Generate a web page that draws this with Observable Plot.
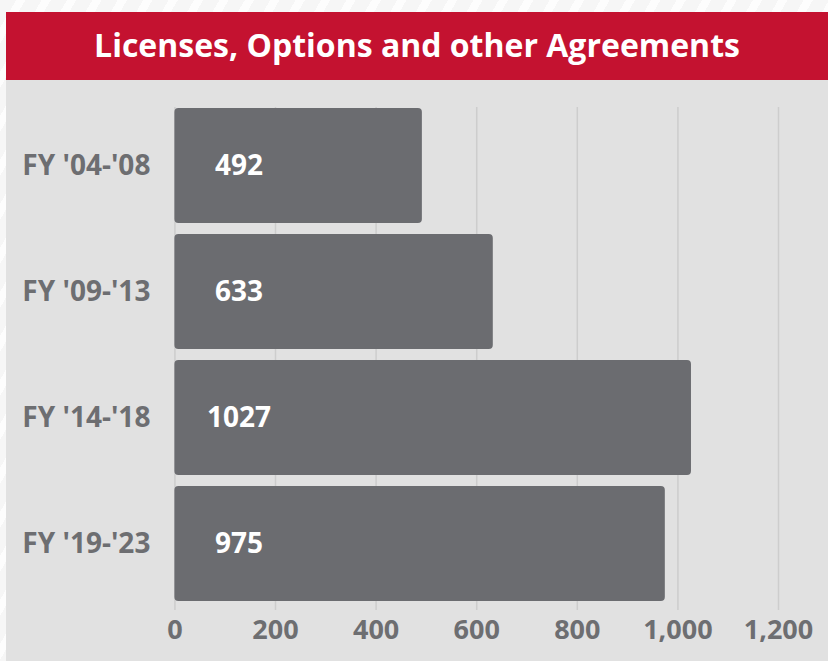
<!DOCTYPE html>
<html>
<head>
<meta charset="utf-8">
<script src="https://cdn.jsdelivr.net/npm/d3@7"></script>
<script src="https://cdn.jsdelivr.net/npm/@observablehq/plot@0.6"></script>
<style>
  html, body { margin: 0; padding: 0; }
  body {
    width: 828px; height: 661px; overflow: hidden;
    background: repeating-linear-gradient(120deg, #f6f6f6 0px, #f6f6f6 14px, #fdfdfd 14px, #fdfdfd 22px);
    font-family: "Open Sans", sans-serif;
    position: relative;
  }
  #panel {
    position: absolute; left: 6px; top: 12px; width: 822px; height: 649px;
    background: #e1e1e1;
  }
  #title {
    height: 68px; background: #c41230; color: #fff;
    font: 700 32px "Open Sans", sans-serif;
    line-height: 66px;
    text-align: center; white-space: nowrap;
  }
  #chart svg { display: block; }
</style>
</head>
<body>
<div id="panel">
  <div id="title">Licenses, Options and other Agreements</div>
  <div id="chart"></div>
</div>
<script>
const categories = ["FY '04-'08", "FY '09-'13", "FY '14-'18", "FY '19-'23"];
const values = [492, 633, 1027, 975];
const xTicks = [0, 200, 400, 600, 800, 1000, 1200];

const data = categories.map((c, i) => ({category: c, value: values[i]}));

const chart = Plot.plot({
  width: 822,
  height: 581,
  marginLeft: 168.4,
  marginRight: 50,
  marginTop: 27,
  marginBottom: 59,
  style: {background: "transparent", fontFamily: "'Open Sans', sans-serif", overflow: "visible"},
  x: {domain: [0, 1200], ticks: xTicks},
  y: {domain: categories, paddingInner: 0.09, paddingOuter: 0},
  marks: [
    Plot.gridX(xTicks, {stroke: "#cdcdcd", strokeOpacity: 1, strokeWidth: 1.5, insetBottom: -8}),
    Plot.barX(data, {x: "value", y: "category", fill: "#6b6c70", rx: 4}),
    Plot.text(data, {x: 0, y: "category", text: d => String(d.value), dx: 64, fill: "#ffffff", fontSize: 28, fontWeight: 700, textAnchor: "middle"}),
    Plot.axisY({tickSize: 0, tickPadding: 24.5, fontSize: 28, fontWeight: 700, fill: "#6d6e71", label: null}),
    Plot.axisX(xTicks, {tickSize: 0, tickPadding: 17, fontSize: 27, fontWeight: 700, fill: "#6d6e71", label: null, tickFormat: d3.format(","), style: {letterSpacing: "0.5px"}})
  ]
});
document.getElementById("chart").appendChild(chart);
</script>
</body>
</html>
